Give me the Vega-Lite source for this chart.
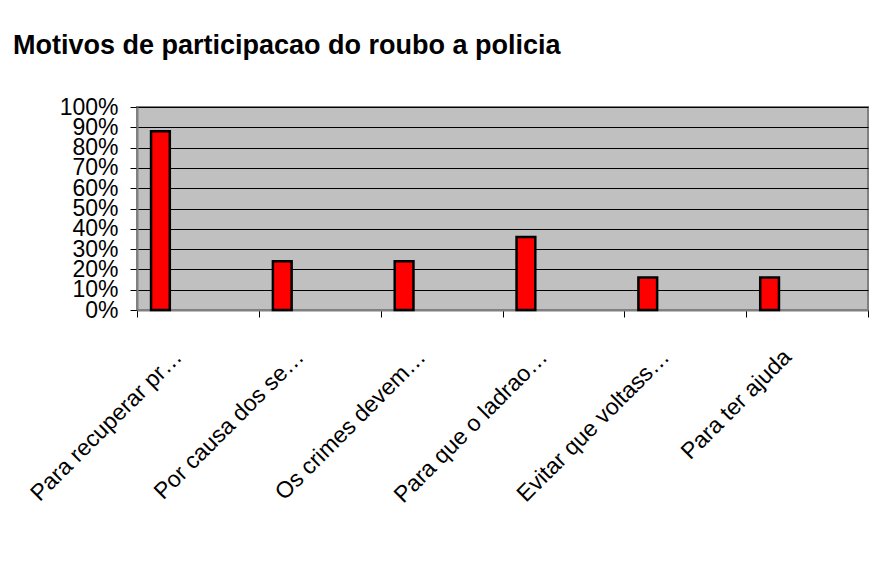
{
  "$schema": "https://vega.github.io/schema/vega-lite/v6.json",
  "autosize": "none",
  "width": 731,
  "height": 203,
  "padding": {"left": 137, "top": 107, "right": 17, "bottom": 265},
  "background": "white",
  "title": {
    "text": "Motivos de participacao do roubo a policia",
    "anchor": "start",
    "frame": "group",
    "dx": -124,
    "font": "Liberation Sans",
    "fontSize": 27,
    "fontWeight": "bold",
    "color": "black",
    "baseline": "alphabetic",
    "offset": 15
  },
  "data": {
    "values": [
      {"motivo": "Para recuperar pr…", "serie": "A", "valor": 0.88},
      {"motivo": "Por causa dos se…", "serie": "A", "valor": 0.24},
      {"motivo": "Os crimes devem…", "serie": "A", "valor": 0.24},
      {"motivo": "Para que o ladrao…", "serie": "A", "valor": 0.36},
      {"motivo": "Evitar que voltass…", "serie": "A", "valor": 0.16},
      {"motivo": "Para ter ajuda", "serie": "A", "valor": 0.16}
    ]
  },
  "mark": {"type": "bar", "fill": "#FF0000", "stroke": "black", "strokeWidth": 2.5},
  "encoding": {
    "x": {
      "field": "motivo",
      "type": "nominal",
      "sort": null,
      "scale": {"paddingInner": 0, "paddingOuter": 0},
      "axis": {
        "title": null,
        "labelAngle": -45,
        "labelAlign": "right",
        "labelBaseline": "middle",
        "labelFont": "Liberation Sans",
        "labelFontSize": 23,
        "labelColor": "black",
        "labelPadding": 36,
        "labelOffset": -20,
        "labelLimit": 0,
        "labelOverlap": false,
        "tickBand": "extent",
        "tickSize": 7,
        "tickColor": "black",
        "domainColor": "#808080",
        "domainWidth": 2,
        "grid": false
      }
    },
    "xOffset": {
      "field": "serie",
      "type": "nominal",
      "scale": {"domain": ["A", "B", "C", "D", "E"], "paddingInner": 0, "paddingOuter": 0.75}
    },
    "y": {
      "field": "valor",
      "type": "quantitative",
      "scale": {"domain": [0, 1], "nice": false},
      "axis": {
        "title": null,
        "format": ".0%",
        "values": [0, 0.1, 0.2, 0.3, 0.4, 0.5, 0.6, 0.7, 0.8, 0.9, 1],
        "labelFont": "Liberation Sans",
        "labelFontSize": 23,
        "labelColor": "black",
        "labelPadding": 12,
        "labelOverlap": false,
        "tickSize": 7,
        "tickColor": "black",
        "domainColor": "#808080",
        "domainWidth": 2,
        "grid": true,
        "gridColor": "black",
        "gridOpacity": 1,
        "gridWidth": 1
      }
    }
  },
  "config": {
    "view": {"fill": "#C0C0C0", "stroke": "#808080", "strokeWidth": 2}
  }
}
